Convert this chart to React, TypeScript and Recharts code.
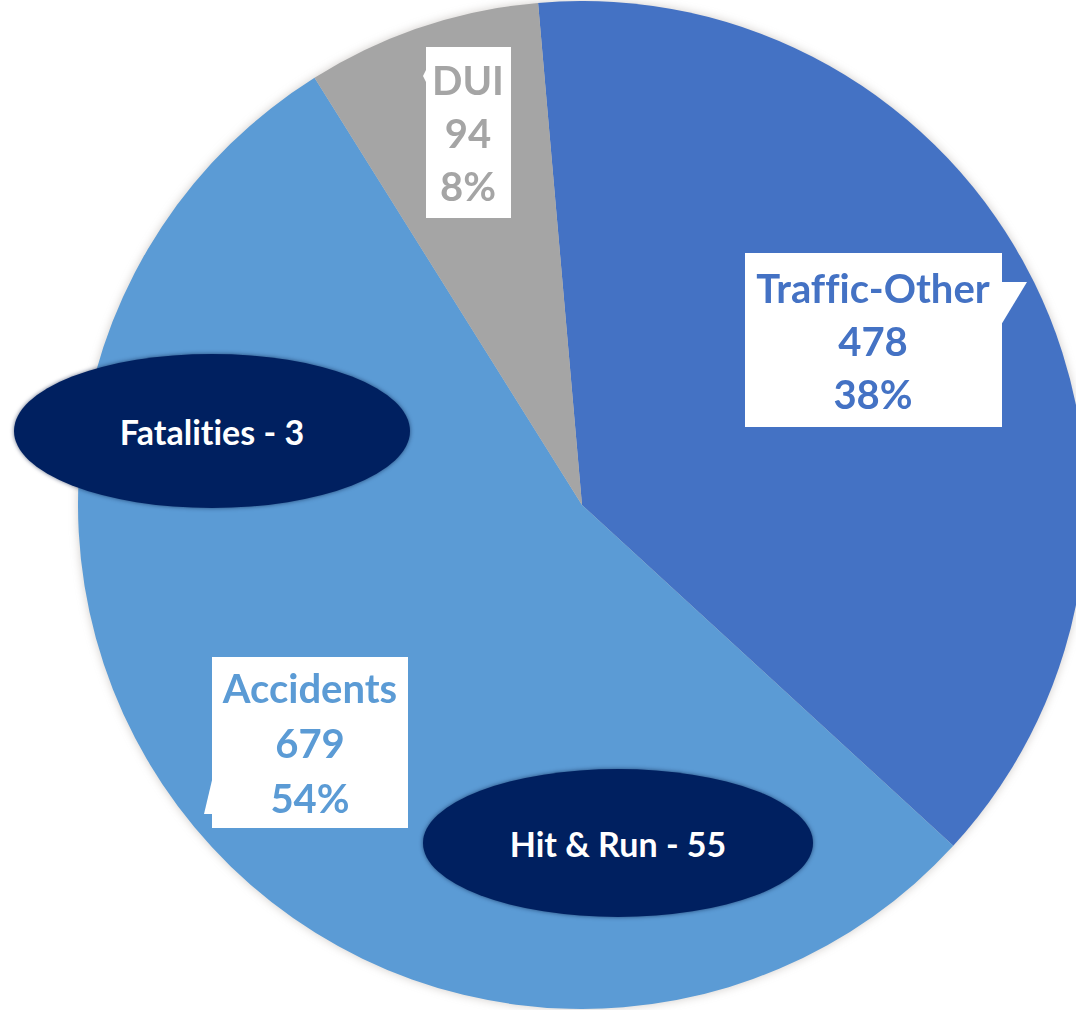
import React from "react";
import { PieChart, Pie, Cell } from "recharts";

// slices, clockwise from the top
const categories = ["Traffic-Other", "Accidents", "DUI"];
const counts = [478, 679, 94];
const sliceColors = ["#4472C4", "#5B9BD5", "#A5A5A5"];

// navy ovals placed on top of the Accidents slice
const calloutNames = ["Fatalities", "Hit & Run"];
const calloutCounts = [3, 55];

const data = categories.map((name, i) => ({ name, value: counts[i] }));

// where each data label box sits (moved by hand in the original)
const boxLayout: Record<string, any> = {
  "Traffic-Other": {
    x: 745, y: 253, w: 257, h: 174, tx: 873, lines: [303, 356, 409],
    pointer: "1001,282 1027,282 1001,325",
  },
  Accidents: {
    x: 212, y: 657, w: 196, h: 171, tx: 310, lines: [703, 758, 813],
    pointer: "213,776 204,814 213,814",
  },
  DUI: {
    x: 426, y: 47, w: 85, h: 171, tx: 468, lines: [95, 148, 201],
    pointer: "427,68 423,76 427,84",
  },
};

const ovalLayout = [
  { cx: 212, cy: 431, rx: 198, ry: 77 },
  { cx: 618, cy: 843, rx: 195, ry: 74 },
];

const FONT = "Lato, 'Open Sans', sans-serif";

const renderLabel = (props: any) => {
  const { name, value, percent, index } = props;
  const box = boxLayout[name];
  if (!box) return null;
  const color = sliceColors[index];
  const texts = [name, String(value), `${Math.round(percent * 100)}%`];
  return (
    <g key={`lbl-${name}`}>
      <rect x={box.x} y={box.y} width={box.w} height={box.h} fill="#fff" />
      <polygon points={box.pointer} fill="#fff" />
      {texts.map((t, i) => (
        <text
          key={i}
          x={box.tx}
          y={box.lines[i]}
          textAnchor="middle"
          fill={color}
          fontFamily={FONT}
          fontWeight={700}
          fontSize={40}
          style={{ fontVariantLigatures: "none" }}
        >
          {t}
        </text>
      ))}
    </g>
  );
};

export default function App() {
  return (
    <div
      style={{
        position: "absolute",
        left: 0,
        top: 0,
        width: 1076,
        height: 1010,
        background: "#fff",
        overflow: "hidden",
      }}
    >
      <div style={{ filter: "drop-shadow(0 0 5px rgba(120,110,100,0.35))" }}>
        <PieChart
          width={1076}
          height={1010}
          margin={{ top: 0, right: 0, bottom: 0, left: 0 }}
        >
          <Pie
            data={data}
            dataKey="value"
            nameKey="name"
            cx={582}
            cy={505}
            innerRadius={0}
            outerRadius={504}
            startAngle={95}
            endAngle={-265}
            stroke="none"
            label={renderLabel}
            labelLine={false}
            isAnimationActive={false}
          >
            {data.map((d, i) => (
              <Cell key={d.name} fill={sliceColors[i]} />
            ))}
          </Pie>
        </PieChart>
      </div>

      {calloutNames.map((n, i) => {
        const o = ovalLayout[i];
        return (
          <div
            key={n}
            style={{
              position: "absolute",
              left: o.cx - o.rx,
              top: o.cy - o.ry,
              width: o.rx * 2,
              height: o.ry * 2,
              borderRadius: "50%",
              background: "#002060",
              boxShadow: "0 0 4px rgba(0,20,60,0.6)",
              display: "flex",
              alignItems: "center",
              justifyContent: "center",
              color: "#fff",
              fontFamily: FONT,
              fontWeight: 700,
              fontSize: 34,
              fontVariantLigatures: "none",
            }}
          >
            {`${n} - ${calloutCounts[i]}`}
          </div>
        );
      })}
    </div>
  );
}
